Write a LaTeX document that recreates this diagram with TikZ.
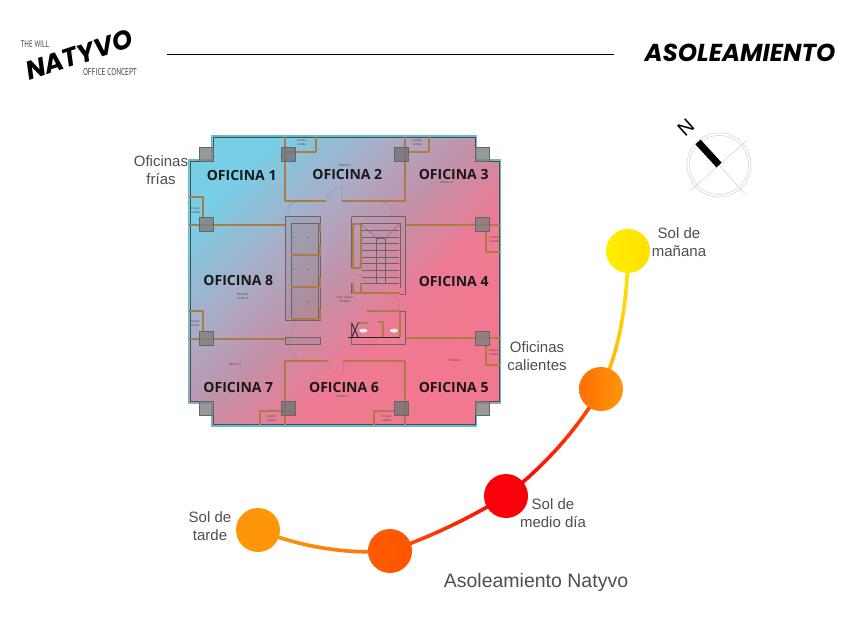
\documentclass[tikz,border=0pt]{standalone}
\usepackage{fontspec}
\setmainfont{Liberation Sans}
\newfontfamily\ofifont{Open Sans}
\newfontfamily\brushfont{Poppins}
\newfontfamily\narrowfont{PT Sans}
\usetikzlibrary{calc,backgrounds}
\definecolor{labelgray}{RGB}{78,78,82}
\definecolor{wallbrown}{RGB}{172,124,68}
\definecolor{coregray}{RGB}{105,100,105}
\definecolor{edgecyan}{RGB}{95,190,205}
\definecolor{sunyellow}{RGB}{255,236,0}
\definecolor{sunamber}{RGB}{255,175,10}
\definecolor{sunorange}{RGB}{255,110,5}
\definecolor{sundeep}{RGB}{255,85,0}
\definecolor{sunred}{RGB}{250,0,10}
\definecolor{suntarde}{RGB}{255,150,10}
\pgfdeclarehorizontalshading{planshade}{100bp}{rgb(0bp)=(.47,.81,.90);rgb(25bp)=(.47,.81,.90);rgb(38bp)=(.66,.68,.78);rgb(49bp)=(.76,.57,.66);rgb(60bp)=(.93,.48,.58);rgb(75bp)=(.95,.47,.56);rgb(100bp)=(.95,.47,.56)}
\tikzset{
	wall/.style={wallbrown,line width=1.8pt},
	corewall/.style={coregray,line width=.8pt},
	doorarc/.style={gray!70!coregray,line width=.2pt,opacity=.7},
	column/.style={fill=gray,fill opacity=.8,draw=gray!80!black,line width=.5pt},
	oficina/.style={font=\ofifont\fontsize{14}{16}\selectfont\bfseries,text=black!90,inner sep=0pt},
	tinytext/.style={font=\fontsize{3}{3.5}\selectfont,text=black!70,align=center,inner sep=0pt},
	rotulo/.style={font=\fontsize{15}{18}\selectfont,text=labelgray,align=center,inner sep=0pt},
	sun/.style={circle,minimum size=44pt,inner sep=0pt},
	sunpath/.style={line width=3.6pt,line cap=round}
}
%% tramo de la curva, color de #4 a #5
\newcommand{\sunarc}[5]{%
	\foreach \t [remember=\t as \tp (initially 0)] in {.05,.10,...,1.01}{
		\pgfmathtruncatemacro\pct{100*\t+.5}
		\draw[sunpath,color=#5!\pct!#4] ($($(#1)!\tp!(#2)$)!\tp!($(#2)!\tp!(#3)$)$)--($($(#1)!\t!(#2)$)!\t!($(#2)!\t!(#3)$)$);
	}
}
\begin{document}
\begin{tikzpicture}[x=1pt,y=-1pt,line join=round]
	\useasboundingbox (0,0) rectangle (848,636);
	%% encabezado
	\node[font=\narrowfont\fontsize{9.5}{10}\selectfont,text=black!75,xscale=.72,inner sep=0pt] (will) at (35,44) {THE WILL};
	\node[font=\brushfont\fontsize{26}{27}\selectfont\bfseries\itshape,rotate=18,inner sep=0pt] (natyvo) at (79,55) {NATYVO};
	\node[font=\narrowfont\fontsize{10}{10}\selectfont,text=black!75,xscale=.72,inner sep=0pt] (concept) at (110,72) {OFFICE CONCEPT};
	\coordinate (L1) at (167,54);
	\coordinate (L2) at (614,54);
	\draw[line width=.7pt] (L1)--(L2);
	\node[font=\brushfont\fontsize{24.5}{25}\selectfont\bfseries\itshape,inner sep=0pt] (titulo) at (740,53) {ASOLEAMIENTO};
	%% planta, coordenadas a 1/3
	\begin{scope}[shift={(170,120)},scale=1/3]
		\path[shade,shading=planshade,shading angle=-45]
		(125,48)--(920,48)--(920,120)--(992,120)--(992,850)--(920,850)--(920,918)--(125,918)--(125,850)--(55,850)--(55,120)--(125,120)--cycle;
		\draw[edgecyan,line width=1.2pt]
		(125,48)--(920,48)--(920,120)--(992,120)--(992,850)--(920,850)--(920,918)--(125,918)--(125,850)--(55,850)--(55,120)--(125,120)--cycle;
		\draw[black!70,line width=.5pt]
		(130,53)--(915,53)--(915,125)--(987,125)--(987,845)--(915,845)--(915,913)--(130,913)--(130,845)--(60,845)--(60,125)--(130,125)--cycle;
		%% muros
		\draw[wall] (345,50)--(345,243)--(468,243) (515,243)--(705,243)--(705,50);
		\draw[wall] (345,95)--(437,95)--(437,50) (712,95)--(778,95)--(778,50);
		\draw[wall] (58,232)--(100,232)--(100,295) (58,572)--(100,572)--(100,635);
		\draw[wall] (948,335)--(948,395)--(990,395) (948,675)--(948,735)--(990,735);
		\draw[wall] (270,915)--(270,872)--(345,872) (612,915)--(612,872)--(675,872);
		\draw[wall] (58,314)--(345,314) (708,314)--(990,314);
		\draw[wall] (58,656)--(345,656) (708,654)--(990,654);
		\draw[wall] (345,915)--(345,722)--(475,722) (520,722)--(705,722)--(705,915);
		%% puertas
		\draw[doorarc] (515,200)--(515,243) (468,243) .. controls (472,220) and (490,202) .. (515,200);
		\draw[doorarc] (520,722)--(520,765) (475,722) .. controls (478,745) and (496,763) .. (520,765);
		\draw[doorarc] (358,290) .. controls (345,265) and (360,245) .. (385,243);
		\draw[doorarc] (665,290) .. controls (672,265) and (655,245) .. (630,243);
		\draw[doorarc] (385,722) .. controls (355,705) and (345,670) .. (375,612);
		\draw[doorarc] (685,570) .. controls (695,545) and (680,525) .. (655,522);
		\draw[doorarc] (590,490) .. controls (585,470) and (570,462) .. (548,462);
		%% nucleo
		\draw[corewall,fill=gray,fill opacity=.18] (345,290) rectangle (452,600);
		\foreach \y/\z in {310/405,405/500,500/597}
		\draw[corewall,line width=.4pt,fill=gray,fill opacity=.12] (363,\y) rectangle (445,\z);
		\foreach \y in {352,448,545}{
			\fill[coregray] (413,\y) circle (2.4);
			\fill[coregray] (371,\y) circle (1.8);
		}
		\draw[wall] (363,405)--(452,405) (363,500)--(452,500) (363,597)--(452,597);
		\draw[wall] (449,310)--(449,335) (449,375)--(449,405) (449,470)--(449,500) (449,568)--(449,597);
		\draw[corewall,fill=gray,fill opacity=.18] (345,653) rectangle (452,673);
		\draw[corewall] (545,290)--(707,290)--(707,522)--(690,522);
		\draw[corewall] (545,290)--(545,445) (545,490)--(545,522);
		\draw[corewall,line width=.4pt] (545,310)--(690,310)--(690,505);
		\foreach \y in {330,350,...,490}
		\draw[corewall,line width=.25pt] (575,\y)--(688,\y);
		\draw[corewall,line width=.35pt] (620,355) rectangle (645,490);
		\draw[corewall,line width=.3pt] (572,310)--(615,350) (690,310)--(650,350);
		\draw[wall] (572,312)--(548,312)--(548,445)--(572,445)--(572,312);
		\draw[wall] (548,490)--(548,520)--(690,520) (572,490)--(572,518);
		\draw[corewall] (707,573)--(707,673)--(545,673)--(545,655);
		\draw[wall] (592,573)--(690,573)--(690,650);
		\draw[corewall] (690,573)--(707,573);
		\draw[wall] (565,610)--(595,610) (625,607)--(640,607)--(640,650);
		\draw[black!85,line width=.8pt] (535,653)--(690,653);
		\draw[black!85,line width=.8pt] (545,608)--(565,653) (565,608)--(545,653) (545,608)--(545,653);
		\fill[white!90!wallbrown] (580,632) ellipse (12 and 6) (672,632) ellipse (12 and 6);
		%% columnas
		\foreach \x/\y in {110/102,938/102,110/865,938/865,110/314,938/314,110/654,938/654}
		\draw[column] (\x,\y) +(-21,-21) rectangle +(21,21);
		\foreach \x/\y in {354/102,694/102,354/865,694/865}
		\draw[column,fill=black!55] (\x,\y) +(-21,-21) rectangle +(21,21);
		%% textos de planta
		\foreach \n/\x/\y/\m in {1/215/165/OFICINA 1,2/532/163/OFICINA 2,3/851/163/OFICINA 3,4/851/484/OFICINA 4,5/851/802/OFICINA 5,6/522/802/OFICINA 6,7/205/802/OFICINA 7,8/205/482/OFICINA 8}
		\node[oficina] (ofi\n) at (\x,\y) {\m};
		\foreach \n/\x/\y in {a/395/68,b/741/68,c/77/272,d/972/358,e/75/610,f/970/698,g/305/896,h/650/896}
		\node[tinytext] (vent\n) at (\x,\y) {Cuarto\\ventila};
		\foreach \n/\x/\y/\m in {a/525/135/Oficina 2,b/830/188/Oficina 3,c/218/530/Oficina 8\\71.86 m²,d/525/537/Área común\\59.48m²,e/195/733/Oficina 7,f/855/721/Oficina 5,g/518/828/Oficina 6}
		\node[tinytext] (sub\n) at (\x,\y) {\m};
	\end{scope}
	%% rotulos
	\node[rotulo] (frias) at (161,170) {Oficinas\\frías};
	\node[rotulo] (calientes) at (537,356) {Oficinas\\calientes};
	\node[rotulo] (manana) at (679,242) {Sol de\\mañana};
	\node[rotulo] (mediodia) at (553,513) {Sol de\\medio día};
	\node[rotulo] (tarde) at (210,526) {Sol de\\tarde};
	\node[rotulo,font=\fontsize{19.5}{22}\selectfont] (nombre) at (536,582) {Asoleamiento Natyvo};
	%% norte
	\path (719,165) coordinate (O)
	(698,142) coordinate (P)
	(690,191) coordinate (Q)
	(747,140) coordinate (R)
	(745,194) coordinate (S)
	;
	\draw[gray!35,line width=.5pt] (O) circle (32) (O) circle (29.5);
	\draw[gray!45,line width=.4pt] (Q)--(R) (O)--(S);
	\draw[black,line width=7pt] (P)--(O);
	\node[font=\fontsize{20}{20}\selectfont,rotate=42,inner sep=0pt] (norte) at (686,128) {N};
	%% soles
	\path (627,335) coordinate (C1)
	(565,450) coordinate (C2)
	(450,530) coordinate (C3)
	(325,556) coordinate (C4)
	;
	\node[sun,left color=sunyellow,right color=sunyellow!90!orange] (S1) at (628,251) {};
	\node[sun,left color=sunorange,right color=suntarde] (S2) at (601,389) {};
	\node[sun,fill=sunred] (S3) at (506,496) {};
	\node[sun,left color=sundeep!90!suntarde,right color=sundeep] (S4) at (390,551) {};
	\node[sun,fill=suntarde] (S5) at (258,530) {};
	\begin{scope}[on background layer]
		\sunarc{S1.center}{C1}{S2.center}{sunyellow}{sunamber}
		\sunarc{S2.center}{C2}{S3.center}{sundeep}{sunred}
		\sunarc{S3.center}{C3}{S4.center}{sunred}{sundeep}
		\sunarc{S4.center}{C4}{S5.center}{sunorange}{suntarde}
	\end{scope}
\end{tikzpicture}
\end{document}
